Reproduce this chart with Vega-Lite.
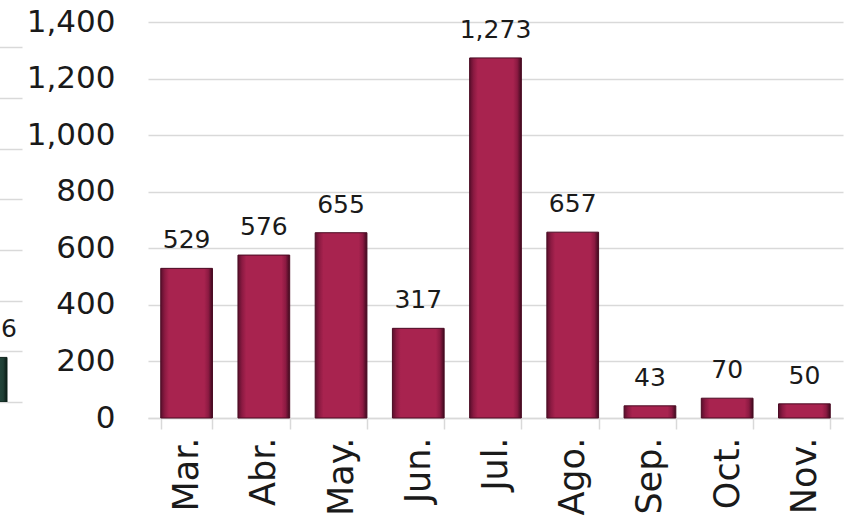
{
  "$schema": "https://vega.github.io/schema/vega-lite/v6.json",
  "background": "white",
  "padding": {"left": 0, "top": 6, "right": 10, "bottom": 0},
  "autosize": {"type": "pad"},
  "bounds": "flush",
  "spacing": 128,
  "config": {"view": {"stroke": null}, "font": "DejaVu Sans"},
  "hconcat": [
    {
      "width": 20,
      "height": 380,
      "data": {"values": [{"mes": "prev", "valor": 176}]},
      "encoding": {
        "x": {"field": "mes", "type": "nominal", "axis": null, "scale": {"range": [-40, 22], "paddingInner": 0, "paddingOuter": 0}},
        "y": {"field": "valor", "type": "quantitative", "scale": {"domain": [0, 1500]},
          "axis": {"values": [0, 200, 400, 600, 800, 1000, 1200, 1400], "grid": true, "labels": false, "ticks": false, "domain": false, "title": null, "gridColor": "#d9d9d9", "gridWidth": 1.5}}
      },
      "layer": [
        {"mark": {"type": "bar", "clip": true, "width": 32, "stroke": "#0f241d", "strokeWidth": 1,
          "color": {"gradient": "linear", "x1": 0, "x2": 1, "y1": 0, "y2": 0,
            "stops": [{"offset": 0, "color": "#0f241d"}, {"offset": 0.12, "color": "#1f3f35"}, {"offset": 0.5, "color": "#2b5246"}, {"offset": 0.88, "color": "#1f3f35"}, {"offset": 1, "color": "#0a1a15"}]}}},
        {"mark": {"type": "text", "clip": true, "baseline": "alphabetic", "dy": -20, "dx": 2, "fontSize": 25, "color": "#1a1a1a"},
          "encoding": {"text": {"field": "valor", "type": "quantitative", "format": ",.0f"}}}
      ]
    },
    {
      "width": 695,
      "height": 396,
      "data": {"values": [
        {"mes": "Mar.", "valor": 529},
        {"mes": "Abr.", "valor": 576},
        {"mes": "May.", "valor": 655},
        {"mes": "Jun.", "valor": 317},
        {"mes": "Jul.", "valor": 1273},
        {"mes": "Ago.", "valor": 657},
        {"mes": "Sep.", "valor": 43},
        {"mes": "Oct.", "valor": 70},
        {"mes": "Nov.", "valor": 50}
      ]},
      "encoding": {
        "x": {"field": "mes", "type": "nominal", "sort": null,
          "scale": {"paddingInner": 0.33, "paddingOuter": 0.165},
          "axis": {"title": null, "labelAngle": -90, "labelFontSize": 35, "labelColor": "#1a1a1a", "domainColor": "#d9d9d9", "domainWidth": 1.5, "tickColor": "#d9d9d9", "tickWidth": 1.5, "tickSize": 11, "tickBand": "extent", "labelPadding": 8, "grid": false}},
        "y": {"field": "valor", "type": "quantitative", "scale": {"domain": [0, 1400]},
          "axis": {"values": [0, 200, 400, 600, 800, 1000, 1200, 1400], "format": ",.0f", "title": null, "labelFontSize": 31, "labelColor": "#1a1a1a", "domain": false, "ticks": false, "tickSize": 0, "labelPadding": 33, "gridColor": "#d9d9d9", "gridWidth": 1.5}}
      },
      "layer": [
        {"mark": {"type": "bar", "stroke": "#4a0a22", "strokeWidth": 1,
          "color": {"gradient": "linear", "x1": 0, "x2": 1, "y1": 0, "y2": 0,
            "stops": [{"offset": 0, "color": "#5a0f2c"}, {"offset": 0.08, "color": "#8c1a42"}, {"offset": 0.16, "color": "#a8234f"}, {"offset": 0.84, "color": "#a8234f"}, {"offset": 0.92, "color": "#8c1a42"}, {"offset": 1, "color": "#3e0a1e"}]}}},
        {"mark": {"type": "text", "baseline": "alphabetic", "dy": -20, "fontSize": 25, "color": "#1a1a1a"},
          "encoding": {"text": {"field": "valor", "type": "quantitative", "format": ",.0f"}}}
      ]
    }
  ]
}
